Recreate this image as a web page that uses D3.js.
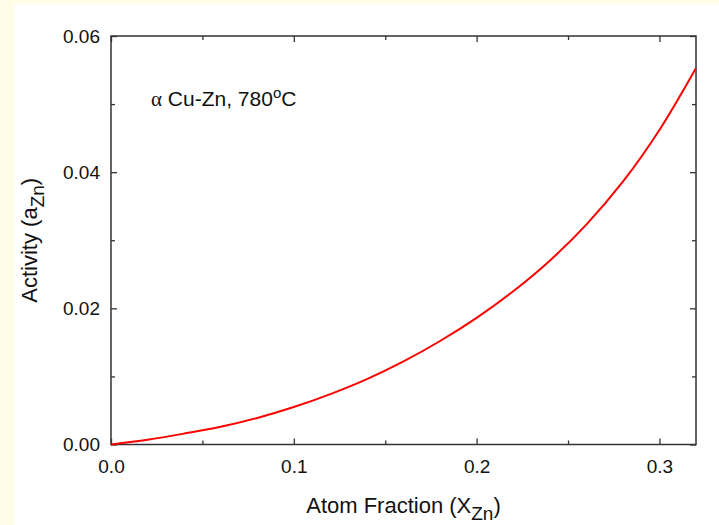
<!DOCTYPE html>
<html>
<head>
<meta charset="utf-8">
<script src="https://cdn.jsdelivr.net/npm/d3@7"></script>
<style>
  body { margin: 0; background: #fffde8; }
  svg { display: block; font-family: "Liberation Sans", Arial, sans-serif; }
</style>
</head>
<body>
<div id="chart"></div>
<script>
// Activity of Zn in alpha Cu-Zn at 780 C
const xZn = [0, 0.02, 0.04, 0.06, 0.08, 0.10, 0.12, 0.14, 0.16, 0.18, 0.20, 0.22, 0.24, 0.26, 0.28, 0.30, 0.32];
const aZn = [0, 0.0007, 0.0016, 0.0026, 0.0039, 0.0055, 0.0074, 0.0096, 0.0122, 0.0152, 0.0186, 0.0225, 0.0270, 0.0323, 0.0386, 0.0462, 0.0553];

const xMajor = [0, 0.1, 0.2, 0.3];
const xMinor = [0.05, 0.15, 0.25];
const yMajor = [0, 0.02, 0.04, 0.06];
const yMinor = [0.01, 0.03, 0.05];

const data = xZn.map((x, i) => ({x: x, a: aZn[i]}));

const width = 719, height = 525;
const margin = {top: 36, right: 23, bottom: 80.5, left: 111};
const plotW = width - margin.left - margin.right,
      plotH = height - margin.top - margin.bottom;

const svg = d3.select("#chart").append("svg")
    .attr("width", width)
    .attr("height", height);

// white panel with the yellow strip left and top
svg.append("rect")
    .attr("x", 14).attr("y", 4)
    .attr("width", width - 14).attr("height", height - 4)
    .attr("fill", "#fff");

const g = svg.append("g")
    .attr("transform", "translate(" + margin.left + "," + margin.top + ")");

const x = d3.scaleLinear().domain([0, 0.32]).range([0, plotW]);
const y = d3.scaleLinear().domain([0, 0.06]).range([plotH, 0]);

function styleAxis(sel) {
    sel.select(".domain").remove();
    sel.selectAll(".tick line").attr("stroke", "#333").attr("stroke-width", 1.3);
    sel.selectAll(".tick text").attr("fill", "#111").style("font-size", "19px")
        .style("font-family", "\"Liberation Sans\", Arial, sans-serif");
}

// bottom
g.append("g").attr("transform", "translate(0," + plotH + ")")
    .call(d3.axisBottom(x).tickValues(xMajor).tickSize(-6).tickPadding(15).tickFormat(d3.format(".1f")))
    .call(styleAxis);
g.append("g").attr("transform", "translate(0," + plotH + ")")
    .call(d3.axisBottom(x).tickValues(xMinor).tickSize(-4).tickFormat(""))
    .call(styleAxis);
// top
g.append("g")
    .call(d3.axisTop(x).tickValues(xMajor).tickSize(-6).tickFormat(""))
    .call(styleAxis);
g.append("g")
    .call(d3.axisTop(x).tickValues(xMinor).tickSize(-4).tickFormat(""))
    .call(styleAxis);
// left
g.append("g")
    .call(d3.axisLeft(y).tickValues(yMajor).tickSize(-6).tickPadding(11).tickFormat(d3.format(".2f")))
    .call(styleAxis);
g.append("g")
    .call(d3.axisLeft(y).tickValues(yMinor).tickSize(-4).tickFormat(""))
    .call(styleAxis);
// right
g.append("g").attr("transform", "translate(" + plotW + ",0)")
    .call(d3.axisRight(y).tickValues(yMajor).tickSize(-6).tickFormat(""))
    .call(styleAxis);
g.append("g").attr("transform", "translate(" + plotW + ",0)")
    .call(d3.axisRight(y).tickValues(yMinor).tickSize(-4).tickFormat(""))
    .call(styleAxis);

// frame
g.append("rect")
    .attr("width", plotW).attr("height", plotH)
    .attr("fill", "none").attr("stroke", "#333").attr("stroke-width", 1.5);

// curve
const line = d3.line()
    .x(d => x(d.x))
    .y(d => y(d.a))
    .curve(d3.curveCatmullRom);

g.append("path")
    .datum(data)
    .attr("fill", "none")
    .attr("stroke", "#ff0000")
    .attr("stroke-width", 2)
    .attr("d", line);

// annotation
const note = g.append("text")
    .attr("x", 40).attr("y", 70)
    .attr("fill", "#111")
    .style("font-size", "21px");
note.append("tspan").style("font-family", "\"Liberation Serif\", serif").text("\u03b1");
note.append("tspan").text(" Cu-Zn, 780");
note.append("tspan").attr("dy", -8).style("font-size", "15px").text("o");
note.append("tspan").attr("dy", 8).text("C");

// x title
const xt = svg.append("text")
    .attr("x", margin.left + plotW / 2).attr("y", 513)
    .attr("text-anchor", "middle")
    .attr("fill", "#111")
    .style("font-size", "22px");
xt.append("tspan").text("Atom Fraction (X");
xt.append("tspan").attr("dy", 7).style("font-size", "19px").text("Zn");
xt.append("tspan").attr("dy", -7).text(")");

// y title
const yt = svg.append("text")
    .attr("transform", "translate(37," + (margin.top + plotH / 2) + ") rotate(-90)")
    .attr("text-anchor", "middle")
    .attr("fill", "#111")
    .style("font-size", "22px");
yt.append("tspan").text("Activity (a");
yt.append("tspan").attr("dy", 7).style("font-size", "19px").text("Zn");
yt.append("tspan").attr("dy", -7).text(")");
</script>
</body>
</html>
